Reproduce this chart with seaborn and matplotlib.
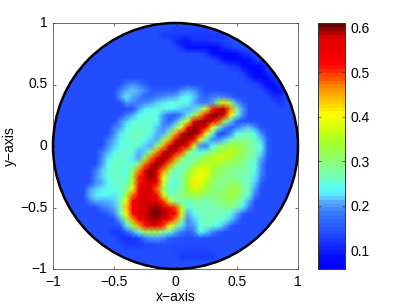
import numpy as np
import matplotlib
matplotlib.use('Agg')
import matplotlib.pyplot as plt
import seaborn as sns
from matplotlib.colors import LinearSegmentedColormap
from matplotlib.patches import Circle

# values, in hundredths, rows go from y=1 down to y=-1, columns x=-1 to x=1
B = [14]
rows = [
    B*41,
    B*20 + [13]*6 + B*15,
    B*18 + [12]*11 + B*12,
    B*20 + [11,10,10,11,11,11,12,12,13] + B*12,
    B*21 + [11,9,8,8,8,8,9,11,12] + B*11,
    B*25 + [12,9,8,7,7,8,11,12] + B*8,
    B*27 + [12,9,8,8,8,9,12] + B*7,
    B*29 + [12,11,9,8,8,9,12] + B*5,
    B*31 + [12,9,8,8,11,12] + B*4,
    B*32 + [12,9,8,8,11] + B*4,
    B*12 + [18,19,18,16] + B*18 + [11,8,8,11,13] + B*2,
    B*11 + [18,21,22,21,19] + [16]*5 + [19,21,20,17] + B*10 + [11,9,9,12] + B*2,
    B*11 + [20,23,21,19,16,17,18,19,20,21,23,24,22,18,16,18,19,18,16] + B*6 + [11,11,13] + B*2,
    B*12 + [20,19,18,19,20,22,23,24,25,25,24,21,18,18,20,32,42,30,20,16] + B*5 + [12,13] + B*2,
    B*14 + [20,23,24,25,25,24,23,22,21,22,27,38,50,57,59,47,29,20] + B*9,
    B*12 + [18,21,24,25,25,24,20,17,15,19,23,31,45,54,60,60,56,41,25,19] + B*9,
    B*11 + [19,22,24,25,25,25,24,19,16,20,27,38,52,59,60,57,49,33,22,16] + B*10,
    B*10 + [18,20,24,25,26,26,25,22,19,21,28,41,54,60,59,53,41,26,19,16,18,21,22,19] + B*7,
    B*10 + [19,23,25,26,27,26,24,21,21,30,45,56,60,60,53,40,25,14,13,19,24,26,27,24,19] + B*6,
    B*9 + [18,21,24,25,26,26,24,22,21,30,44,55,60,59,52,38,25,19,19,22,27,29,29,28,26,22,16] + B*5,
    B*9 + [19,22,24,25,25,25,22,21,30,44,55,60,58,52,37,19,18,24,29,31,33,33,31,29,27,24,16] + B*5,
    B*8 + [18,21,24,25,26,25,21,22,32,47,56,60,57,49,34,25,24,27,30,33,35,36,34,31,29,27,23,16] + B*5,
    B*8 + [19,23,25,26,26,23,21,32,48,56,60,56,47,33,26,27,30,33,35,37,37,34,32,30,28,26,21,15] + B*5,
    B*8 + [20,24,26,26,25,24,31,48,56,60,57,47,33,26,27,31,35,36,35,33,31,30,30,29,27,24,19] + B*6,
    B*7 + [18,22,25,26,25,24,30,47,56,60,58,47,32,26,27,31,36,39,38,34,31,30,29,28,28,27,24,19] + B*6,
    B*7 + [19,22,25,26,26,25,33,50,57,60,55,41,28,25,28,33,38,40,38,33,30,29,29,28,27,26,23,18] + B*6,
    B*7 + [19,21,24,25,26,26,35,51,57,58,52,37,26,25,28,34,42,39,35,31,29,29,30,30,28,26,22,16] + B*6,
    B*6 + [20,22,23,24,25,26,29,40,54,58,57,48,32,25,26,29,33,38,36,33,30,29,30,32,32,29,26,20] + B*7,
    B*6 + [21,23,24,24,23,25,33,48,55,58,57,52,37,28,27,30,31,32,32,30,29,30,31,33,32,28,24,18] + B*7,
    B*6 + [18,21,21,21,22,27,41,53,57,58,57,56,50,38,28,27,27,28,28,27,28,29,30,31,29,26,21] + B*8,
    B*8 + [18,19,21,28,43,53,57,58,59,60,58,55,49,35,24,26,27,27,27,28,28,29,27,23,18] + B*8,
    B*9 + [16,19,26,40,52,56,58,60,61,59,57,54,38,21,24,26,27,27,27,26,25,21,16] + B*9,
    B*11 + [21,31,46,54,57,59,59,57,54,47,30,19,22,25,27,27,26,25,22,18] + B*10,
    B*10 + [14,15,23,33,45,51,54,54,50,41,31,23,19,20,25,26,25,24,21,16] + B*11,
    B*10 + [12,12,16,20,25,30,33,32,29,25,21,18,16,18,24,22,19,16] + B*13,
    B*11 + [12,11,11,13,18,20,20,19,16,15] + B*20,
    B*12 + [12,12,12,13,13] + B*24,
    B*20 + [13]*6 + B*15,
    B*21 + [12]*6 + B*14,
    B*41,
    B*41,
]
x_ticks = [-1, -0.5, 0, 0.5, 1]
y_ticks = [1, 0.5, 0, -0.5, -1]
tick_labels_x = ['\u22121', '\u22120.5', '0', '0.5', '1']
tick_labels_y = ['1', '0.5', '0', '\u22120.5', '\u22121']
cbar_ticks = [0.1, 0.2, 0.3, 0.4, 0.5, 0.6]
cbar_labels = ['0.1', '0.2', '0.3', '0.4', '0.5', '0.6']

# colour stops sampled from the colorbar
stops = [0, 0.05, 0.13, 0.22, 0.27, 0.30, 0.33, 0.40, 0.50, 0.55, 0.63, 0.74, 0.84, 0.95, 1]
stop_colors = ['#0000ff', '#050fff', '#1e46ff', '#3778ff', '#55aaff', '#5aebff', '#5afff0', '#82ffa0',
               '#a0ff32', '#beff14', '#ffff00', '#ff8c00', '#ff0000', '#dc0000', '#640000']

field = np.array(rows) / 100.0
ref_jet = LinearSegmentedColormap.from_list('ref_jet', list(zip(stops, stop_colors)), N=64)

plt.rcParams['font.family'] = ['Liberation Sans', 'DejaVu Sans']
plt.rcParams['font.size'] = 10

W, H = 407, 307
fig = plt.figure(figsize=(W/100, H/100), dpi=100)
ax = fig.add_axes([53/W, 1-269/H, 245/W, 246/H])
cax = fig.add_axes([318/W, 1-269/H, 27/W, 246/H])

sns.heatmap(field, ax=ax, cbar_ax=cax, cmap=ref_jet, vmin=0.058, vmax=0.61,
            shading='gouraud', cbar_kws={'ticks': cbar_ticks})

# heatmap indexes cells, so map data coords to grid nodes
n = field.shape[0] - 1
to_i = lambda v: (v + 1) / 2 * n
ax.set_xlim(0, n)
ax.set_ylim(n, 0)
ax.set_xticks([to_i(v) for v in x_ticks])
ax.set_xticklabels(tick_labels_x, rotation=0)
ax.set_yticks([to_i(-v) for v in y_ticks])
ax.set_yticklabels(tick_labels_y, rotation=0)
ax.tick_params(direction='in', length=2.5, width=0.5, top=True, right=True, color='#333333', pad=4, labelsize=10)
ax.set_xlabel('x\u2212axis', fontsize=10, labelpad=1)
ax.set_ylabel('y\u2212axis', fontsize=10, labelpad=2)
for s in ax.spines.values():
    s.set_visible(True)
    s.set_linewidth(0.6)
    s.set_color('#555555')

# disk mask and rim
clip = Circle((n/2, n/2), n/2, transform=ax.transData)
ax.collections[0].set_clip_path(clip)
ax.add_patch(Circle((n/2, n/2), n/2, fill=False, edgecolor='black', linewidth=1.8, clip_on=False, zorder=5))

cax.tick_params(direction='in', length=2.5, width=0.5, color='#333333', left=True, right=True, labelsize=10, pad=4)
cax.set_yticklabels(cbar_labels)
for s in cax.spines.values():
    s.set_visible(True)
    s.set_linewidth(0.6)
    s.set_color('#333333')

fig.savefig('out.png', dpi=100)
